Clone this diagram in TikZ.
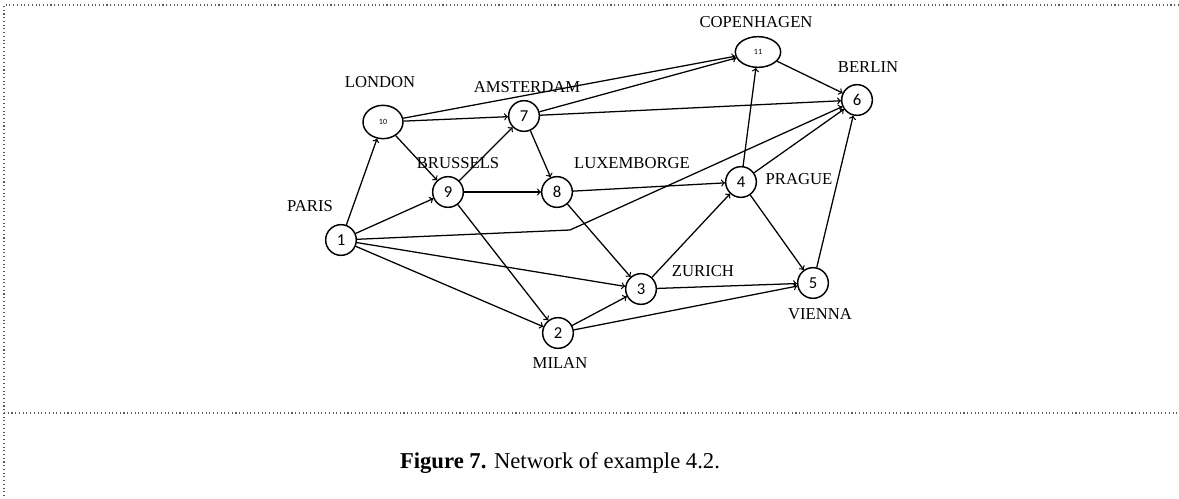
\documentclass[tikz,border=0pt]{standalone}
\usepackage{fontspec}
\setmainfont{Liberation Serif}
\newfontfamily\numfont{Carlito}
\usetikzlibrary{shapes.geometric}

\begin{document}
\begin{tikzpicture}[x=0.75pt, y=-0.75pt,
	city/.style={circle, draw, line width=1.1pt, minimum size=23pt, inner sep=0pt, font=\numfont\fontsize{12.5}{12.5}\selectfont},
	bigcity/.style={ellipse, draw, line width=1.1pt, inner sep=0pt, font=\numfont\fontsize{6}{6}\selectfont},
	cityname/.style={font=\fontsize{12.5}{12.5}\selectfont},
	road/.style={->, line width=0.95pt}]

	\useasboundingbox (0,0) rectangle (1179,499);

	% frame
	\draw[dotted, gray!70!black, line width=0.8pt] (1179,5) -- (4,5) -- (4,499);
	\draw[dotted, gray!70!black, line width=0.8pt] (4,413) -- (1179,413);

	% cities
	\node[city] (n1) at (341,240) {1};
	\node[city] (n2) at (558,333) {2};
	\node[city] (n3) at (641,289) {3};
	\node[city] (n4) at (741,182) {4};
	\node[city] (n5) at (813,283) {5};
	\node[city] (n6) at (857,100) {6};
	\node[city] (n7) at (524,116) {7};
	\node[city] (n8) at (557,192) {8};
	\node[city] (n9) at (448,192) {9};
	\node[bigcity, minimum width=30pt, minimum height=25pt] (n10) at (383,122) {10};
	\node[bigcity, minimum width=34pt, minimum height=23pt] (n11) at (758,52) {11};

	% names
	\node[cityname] (paris) at (310,206) {PARIS};
	\node[cityname] (london) at (380,82) {LONDON};
	\node[cityname] (amsterdam) at (527,87) {AMSTERDAM};
	\node[cityname] (brussels) at (458,163) {BRUSSELS};
	\node[cityname] (luxemborge) at (632,163) {LUXEMBORGE};
	\node[cityname] (copenhagen) at (756,22) {COPENHAGEN};
	\node[cityname] (berlin) at (868,67) {BERLIN};
	\node[cityname] (prague) at (799,179) {PRAGUE};
	\node[cityname] (zurich) at (703,271) {ZURICH};
	\node[cityname] (vienna) at (820,314) {VIENNA};
	\node[cityname] (milan) at (560,363) {MILAN};

	% roads
	\coordinate (bend) at (570,230);
	\draw[road] (n1) -- (n10);
	\draw[road] (n1) -- (n9);
	\draw[road] (n1) -- (n3);
	\draw[road] (n1) -- (n2);
	\draw[road] (n1) -- (bend) -- (n6);
	\draw[road] (n10) -- (n11);
	\draw[road] (n10) -- (n7);
	\draw[road] (n10) -- (n9);
	\draw[road] (n9) -- (n7);
	\draw[road] (n9) -- (n8);
	\draw[road] (n9) -- (n2);
	\draw[road] (n7) -- (n11);
	\draw[road] (n7) -- (n6);
	\draw[road] (n7) -- (n8);
	\draw[road] (n8) -- (n4);
	\draw[road] (n8) -- (n3);
	\draw[road] (n2) -- (n3);
	\draw[road] (n2) -- (n5);
	\draw[road] (n3) -- (n4);
	\draw[road] (n3) -- (n5);
	\draw[road] (n4) -- (n11);
	\draw[road] (n4) -- (n6);
	\draw[road] (n4) -- (n5);
	\draw[road] (n5) -- (n6);
	\draw[road] (n11) -- (n6);

	% caption
	\node[font=\fontsize{17}{17}\selectfont] (caption) at (560,463) {\textbf{Figure 7.} Network of example 4.2.};
\end{tikzpicture}
\end{document}
